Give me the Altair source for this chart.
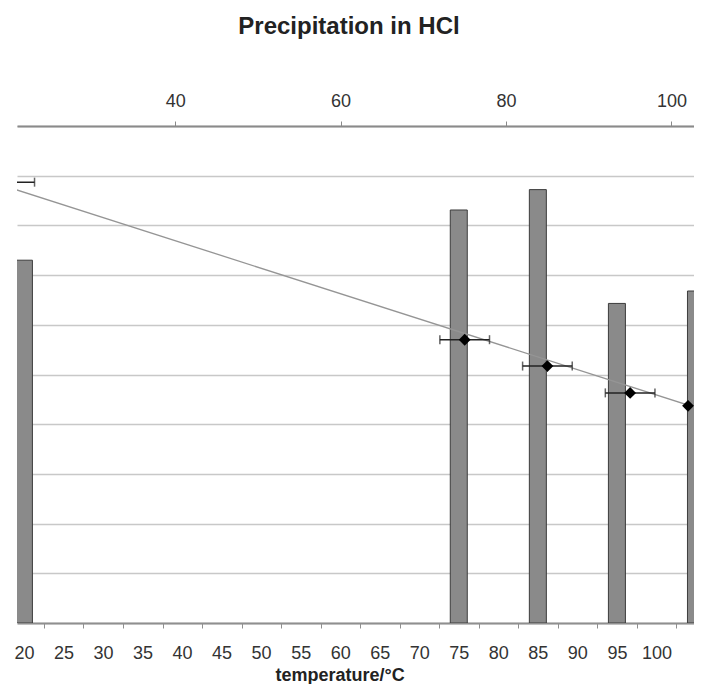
import altair as alt
import pandas as pd

# ---- data ----
bar_temps = [20, 75, 85, 95, 105]
bar_values = [7.30, 8.31, 8.72, 6.43, 6.68]

pt_temps = [20, 75, 85, 95, 102]
pt_values = [8.87, 5.70, 5.17, 4.63, 4.37]

err_temps = [20, 75, 85, 95]
err_values = [8.87, 5.70, 5.17, 4.63]
err_half = [3, 3, 3, 3]

trend_temps = [20, 103]
trend_values = [8.76, 4.33]

bottom_ticks = [20, 25, 30, 35, 40, 45, 50, 55, 60, 65, 70, 75, 80, 85, 90, 95, 100, 105]
top_ticks = [20, 40, 60, 80, 100]
grid_values = [0, 1, 2, 3, 4, 5, 6, 7, 8, 9, 10]

bar_df = pd.DataFrame({"temp": bar_temps, "value": bar_values})
pt_df = pd.DataFrame({"temp": pt_temps, "value": pt_values})
err_df = pd.DataFrame({
    "temp": err_temps,
    "value": err_values,
    "lo": [t - h for t, h in zip(err_temps, err_half)],
    "hi": [t + h for t, h in zip(err_temps, err_half)],
})
trend_df = pd.DataFrame({"temp": trend_temps, "value": trend_values})

FONT = "Liberation Sans"
W = 677
H = 497

bottom_scale = alt.Scale(domain=[19.125, 104.75], nice=False, zero=False, padding=0)
top_scale = alt.Scale(domain=[20.88, 102.72], nice=False, zero=False, padding=0)
y_scale = alt.Scale(domain=[0, 10], nice=False, zero=True)

y_axis = alt.Axis(grid=True, values=grid_values, labels=False, ticks=False,
                  domain=False, title="", gridColor="#c8c8c8", gridWidth=1.5)

bottom_axis = alt.Axis(
    orient="bottom", values=bottom_ticks, tickOffset=20, labelOffset=-20,
    title="temperature/°C", titleFont=FONT, titleFontSize=18, titleFontWeight="bold",
    titleColor="#222222", titleX=322.5, titleY=57, titleBaseline="alphabetic",
    titleAlign="center",
    labelFont=FONT, labelFontSize=18, labelColor="#333333", labelPadding=16,
    labelFlush=False, labelOverlap=False,
    domainColor="#8f8f8f", domainWidth=2, tickColor="#8f8f8f", tickSize=5, tickWidth=1,
    grid=False,
)

top_axis = alt.Axis(
    orient="top", values=top_ticks, title="",
    labelFont=FONT, labelFontSize=18, labelColor="#333333", labelPadding=11,
    labelFlush=False, labelOverlap=False,
    domainColor="#8a8a8a", domainWidth=2, tickColor="#8a8a8a", tickSize=5, tickWidth=1,
    grid=False,
)

bars = alt.Chart(bar_df).mark_bar(
    size=17, color="#8a8a8a", stroke="#3c3c3c", strokeWidth=1, clip=True
).encode(
    x=alt.X("temp:Q", scale=bottom_scale, axis=bottom_axis),
    y=alt.Y("value:Q", scale=y_scale, axis=y_axis),
)

trend = alt.Chart(trend_df).mark_line(color="#959595", strokeWidth=1.3, clip=True).encode(
    x=alt.X("temp:Q", scale=top_scale, axis=top_axis),
    y=alt.Y("value:Q", scale=y_scale, axis=y_axis),
)

err_rule = alt.Chart(err_df).mark_rule(color="#222222", strokeWidth=1.5, clip=True).encode(
    x=alt.X("lo:Q", scale=top_scale, axis=top_axis),
    x2="hi:Q",
    y=alt.Y("value:Q", scale=y_scale, axis=y_axis),
)

cap_lo = alt.Chart(err_df).mark_tick(orient="vertical", color="#222222", size=9,
                                     thickness=1.5, clip=True).encode(
    x=alt.X("lo:Q", scale=top_scale, axis=top_axis),
    y=alt.Y("value:Q", scale=y_scale, axis=y_axis),
)
cap_hi = alt.Chart(err_df).mark_tick(orient="vertical", color="#222222", size=9,
                                     thickness=1.5, clip=True).encode(
    x=alt.X("hi:Q", scale=top_scale, axis=top_axis),
    y=alt.Y("value:Q", scale=y_scale, axis=y_axis),
)

points = alt.Chart(pt_df).mark_point(shape="diamond", filled=True, size=140,
                                     color="black", opacity=1, clip=True).encode(
    x=alt.X("temp:Q", scale=top_scale, axis=top_axis),
    y=alt.Y("value:Q", scale=y_scale, axis=y_axis),
)

top_layer = alt.layer(trend, err_rule, cap_lo, cap_hi, points)

chart = alt.layer(bars, top_layer).resolve_scale(x="independent").resolve_axis(
    x="independent"
).properties(
    width=W,
    height=H,
    padding={"left": 9, "top": 118, "right": 0, "bottom": 61},
    autosize=alt.AutoSizeParams(type="none"),
    background="white",
    title=alt.TitleParams(
        text="Precipitation in HCl", font=FONT, fontSize=24, fontWeight="bold",
        color="#222222", anchor="middle", dx=-6.5, offset=53,
    ),
).configure_view(strokeWidth=0)

chart.save("out.html", embed_options={"renderer": "svg", "actions": False})
